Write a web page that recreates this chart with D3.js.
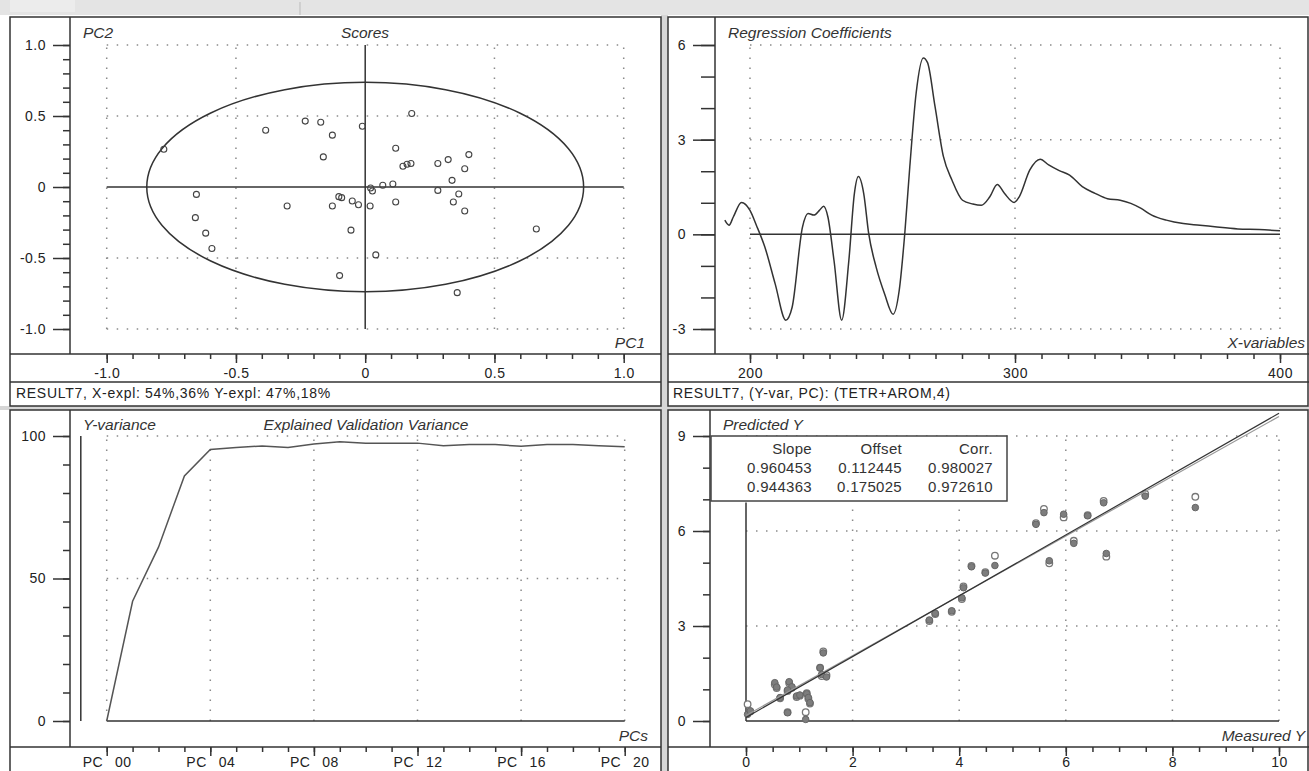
<!DOCTYPE html>
<html>
<head>
<meta charset="utf-8">
<script src="https://cdn.jsdelivr.net/npm/d3@7"></script>
<style>
  body { margin: 0; background: #fff; }
  svg { display: block; font-family: "Liberation Sans", Arial, sans-serif; }
  .tick text { font-size: 14px; fill: #222; letter-spacing: 0.5px; font-family: "Liberation Sans", Arial, sans-serif; }
  .tick line { stroke: #333; stroke-width: 1.5; }
  .ttl { font-size: 15.5px; font-style: italic; fill: #333; }
  .status { font-size: 14px; fill: #222; letter-spacing: 0.7px; }
  .stat { font-size: 15px; fill: #333; letter-spacing: 0.3px; }
</style>
</head>
<body>
<script>
// ---- Scores (PC1 vs PC2) ----
const scorePC1 = [-0.779, -0.385, -0.232, -0.172, -0.127, -0.011, -0.162, 0.180, 0.118, 0.146,
  0.162, 0.177, 0.281, 0.321, 0.401, 0.385, 0.336, 0.281, 0.362, 0.341, 0.385, 0.662, 0.107,
  0.068, 0.021, 0.028, 0.118, 0.019, -0.026, -0.050, -0.091, -0.102, -0.127, -0.302, -0.653,
  -0.657, -0.617, -0.593, -0.055, 0.041, -0.099, 0.356];
const scorePC2 = [0.266, 0.400, 0.464, 0.456, 0.365, 0.428, 0.212, 0.518, 0.273, 0.146,
  0.160, 0.165, 0.165, 0.193, 0.228, 0.129, 0.047, -0.024, -0.049, -0.106, -0.169, -0.296, 0.021,
  0.012, -0.007, -0.028, -0.106, -0.134, -0.125, -0.099, -0.075, -0.068, -0.134, -0.134, -0.052,
  -0.216, -0.325, -0.433, -0.304, -0.478, -0.624, -0.744];
const ellipseRadii = [0.845, 0.737];
const scoreTicks = [-1, -0.5, 0, 0.5, 1];

// ---- Regression coefficients ----
const coefX = [190.5, 192.1, 193.7, 196.8, 200, 202.4, 205.6, 209.5, 213.5, 215.9, 219.8, 221.9,
  224.1, 226.2, 227.8, 229.4, 231.7, 234.6, 237.3, 239.4, 240.9, 242.9, 244.8, 247.6, 250.8,
  254.0, 256.3, 258.4, 260.3, 262.7, 265.4, 267, 269.8, 273, 276.2, 280.2, 284.1, 287.3, 290.5,
  293.3, 296, 299.7, 301.6, 305.6, 309.5, 312.7, 316.7, 320.6, 325.4, 330.2, 334.9, 339.7,
  343.7, 347.6, 351.6, 357.1, 363.5, 369.8, 376.2, 384.1, 392.1, 400];
const coefY = [0.45, 0.29, 0.55, 1.01, 0.76, 0.29, -0.40, -1.57, -2.72, -2.31, 0.23, 0.66,
  0.61, 0.76, 0.89, 0.55, -0.83, -2.72, -0.83, 1.30, 1.83, 1.30, 0.02, -1.04, -1.89,
  -2.53, -1.78, 0.02, 2.14, 4.48, 5.59, 5.44, 4.06, 2.46, 1.72, 1.08, 0.96, 0.92, 1.19,
  1.58, 1.30, 1.01, 1.19, 2.04, 2.38, 2.20, 2.02, 1.88, 1.51, 1.30, 1.13, 1.08,
  0.98, 0.82, 0.61, 0.45, 0.34, 0.29, 0.23, 0.17, 0.15, 0.11];

// ---- Explained validation variance ----
const pcIndex = [0, 1, 2, 3, 4, 5, 6, 7, 8, 9, 10, 11, 12, 13, 14, 15, 16, 17, 18, 19, 20];
const explVar = [0, 42, 61, 86, 95.3, 96, 96.5, 96, 97.2, 98, 97.5, 97.5, 97.5, 96.6, 97, 97,
  96.4, 97, 97, 96.6, 96.2];
const pcTicks = [0, 4, 8, 12, 16, 20];
const pcTickLabels = ["PC\u2002\u00a000", "PC\u2002\u00a004", "PC\u2002\u00a008",
  "PC\u2002\u00a012", "PC\u2002\u00a016", "PC\u2002\u00a020"];

// ---- Predicted vs measured ----
const measured = [8.43, 7.49, 6.71, 6.76, 6.41, 6.15, 5.96, 5.59, 5.69, 5.44, 4.67, 4.49, 4.23,
  4.08, 4.05, 3.86, 3.55, 3.44, 1.45, 1.39, 1.42, 1.51, 0.54, 0.575, 0.81, 0.86, 0.64, 0.78,
  0.95, 1.01, 1.14, 1.17, 1.20, 0.78, 1.12, 0.03, 0.08];
const predCal = [6.74, 7.10, 6.89, 5.29, 6.48, 5.61, 6.53, 6.58, 5.06, 6.21, 4.91, 4.67, 4.87,
  4.21, 3.89, 3.48, 3.40, 3.19, 2.15, 1.68, 1.47, 1.39, 1.21, 1.07, 1.24, 1.08, 0.74, 0.98,
  0.79, 0.82, 0.86, 0.74, 0.58, 0.26, 0.05, 0.21, 0.32];
const predVal = [7.08, 7.17, 6.95, 5.19, 6.50, 5.69, 6.43, 6.70, 4.98, 6.25, 5.22, 4.70, 4.90,
  4.25, 3.85, 3.45, 3.38, 3.16, 2.20, 1.68, 1.42, 1.45, 1.15, 1.04, 1.20, 1.05, 0.72, 0.95,
  0.76, 0.80, 0.88, 0.70, 0.55, 0.28, 0.28, 0.53, 0.30];
const fitSlope = [0.960453, 0.944363];
const fitOffset = [0.112445, 0.175025];
const statHeader = ["Slope", "Offset", "Corr."];
const statCal = ["0.960453", "0.112445", "0.980027"];
const statVal = ["0.944363", "0.175025", "0.972610"];

const W = 1309, H = 771;
const svg = d3.select("body").append("svg").attr("width", W).attr("height", H);

// window chrome / panel frames
svg.append("rect").attr("width", W).attr("height", H).attr("fill", "#fff");
svg.append("rect").attr("width", W).attr("height", 15).attr("fill", "#e4e4e4");
svg.append("rect").attr("x", 10).attr("width", 65).attr("height", 12).attr("fill", "#ececec");
svg.append("line").attr("x1", 300).attr("x2", 300).attr("y1", 2).attr("y2", 15).attr("stroke", "#bbb");
svg.append("rect").attr("x", 661).attr("y", 15).attr("width", 7).attr("height", H).attr("fill", "#d6d6d6");
svg.append("rect").attr("x", 0).attr("y", 406).attr("width", W).attr("height", 4).attr("fill", "#d6d6d6");

const frames = [[10, 17, 651, 389], [668, 17, 640, 389], [10, 410, 651, 380], [668, 410, 640, 380]];
frames.forEach(f => svg.append("rect").attr("x", f[0]).attr("y", f[1]).attr("width", f[2]).attr("height", f[3])
  .attr("fill", "none").attr("stroke", "#333").attr("stroke-width", 1.5));
[[10, 661, 354], [10, 661, 382], [668, 1309, 354], [668, 1309, 382], [10, 661, 747], [668, 1309, 747]]
  .forEach(l => svg.append("line").attr("x1", l[0]).attr("x2", l[1]).attr("y1", l[2]).attr("y2", l[2])
    .attr("stroke", "#333").attr("stroke-width", 1.5));

function yAxis(x, y0, y1, scale, majors, minors, fmt, majLen, minLen) {
  svg.append("line").attr("x1", x).attr("x2", x).attr("y1", y0).attr("y2", y1)
    .attr("stroke", "#333").attr("stroke-width", 1.5);
  svg.append("g").attr("transform", `translate(${x},0)`)
    .call(d3.axisLeft(scale).tickValues(minors).tickSize(minLen).tickFormat(""))
    .call(g => g.select(".domain").remove());
  svg.append("g").attr("transform", `translate(${x},0)`)
    .call(d3.axisLeft(scale).tickValues(majors).tickSize(majLen).tickPadding(7).tickFormat(fmt))
    .call(g => g.select(".domain").remove());
}
function xAxis(y, scale, majors, minors, fmt, pad) {
  svg.append("g").attr("transform", `translate(0,${y})`)
    .call(d3.axisBottom(scale).tickValues(minors).tickSize(5).tickFormat(""))
    .call(g => g.select(".domain").remove());
  svg.append("g").attr("transform", `translate(0,${y})`)
    .call(d3.axisBottom(scale).tickValues(majors).tickSize(9).tickPadding(pad).tickFormat(fmt))
    .call(g => g.select(".domain").remove());
}
function grid(xs, ys, x, y, xr, yr) {
  const g = svg.append("g").attr("stroke", "#8a8a8a").attr("stroke-width", 1.5).attr("stroke-dasharray", "1.5 8.5");
  xs.forEach(v => g.append("line").attr("x1", x(v)).attr("x2", x(v)).attr("y1", y(yr[0])).attr("y2", y(yr[1])));
  ys.forEach(v => g.append("line").attr("x1", x(xr[0])).attr("x2", x(xr[1])).attr("y1", y(v)).attr("y2", y(v)));
}
function label(txt, x, y, anchor, cls) {
  return svg.append("text").attr("class", cls || "ttl").attr("x", x).attr("y", y)
    .attr("text-anchor", anchor || "start").text(txt);
}
const solid = (x1, y1, x2, y2, col) => svg.append("line").attr("x1", x1).attr("y1", y1).attr("x2", x2).attr("y2", y2)
  .attr("stroke", col || "#333").attr("stroke-width", 1.5);

// ===== Scores =====
const xS = d3.scaleLinear().domain([-1, 1]).range([106.7, 623.7]);
const yS = d3.scaleLinear().domain([-1, 1]).range([329, 45]);
grid([-1, -0.5, 0.5, 1], [-1, -0.5, 0.5, 1], xS, yS, [-1, 1], [-1, 1]);
const f1 = d => d === 0 ? "0" : d.toFixed(1);
yAxis(70, 17, 354, yS, scoreTicks, d3.range(-10, 11).map(d => d / 10), f1, 17, 7);
xAxis(354, xS, scoreTicks, d3.range(-10, 11).map(d => d / 10), f1, 5);
solid(xS(-1), yS(0), xS(1), yS(0));
solid(xS(0), yS(-1), xS(0), yS(1));
svg.append("ellipse").attr("cx", xS(0)).attr("cy", yS(0))
  .attr("rx", xS(ellipseRadii[0]) - xS(0)).attr("ry", yS(0) - yS(ellipseRadii[1]))
  .attr("fill", "none").attr("stroke", "#333").attr("stroke-width", 1.5);
svg.append("g").selectAll("circle").data(scorePC1).join("circle")
  .attr("cx", d => xS(d)).attr("cy", (d, i) => yS(scorePC2[i])).attr("r", 3)
  .attr("fill", "none").attr("stroke", "#444").attr("stroke-width", 1.1);
label("PC2", 83, 38);
label("Scores", 365, 38, "middle");
label("PC1", 645, 348, "end");
label("RESULT7, X-expl: 54%,36% Y-expl: 47%,18%", 16, 398, "start", "status");

// ===== Regression coefficients =====
const xR = d3.scaleLinear().domain([200, 400]).range([750, 1280]);
const yR = d3.scaleLinear().domain([-3, 6]).range([329, 45]);
grid([200, 300, 400], [-3, 3, 6], xR, yR, [200, 400], [-3, 6]);
yAxis(715, 17, 354, yR, [-3, 0, 3, 6], d3.range(-3, 7), d => String(d), 22, 14);
xAxis(354, xR, [200, 300, 400], d3.range(200, 401, 10), d => String(d), 5);
solid(xR(200), yR(0), xR(400), yR(0));
svg.append("path").datum(coefX)
  .attr("d", d3.line().x(d => xR(d)).y((d, i) => yR(coefY[i])).curve(d3.curveMonotoneX))
  .attr("fill", "none").attr("stroke", "#333").attr("stroke-width", 1.5);
label("Regression Coefficients", 728, 38);
label("X-variables", 1305, 348, "end");
label("RESULT7, (Y-var, PC): (TETR+AROM,4)", 673, 398, "start", "status");

// ===== Explained validation variance =====
const xV = d3.scaleLinear().domain([0, 20]).range([106.7, 624.7]);
const yV = d3.scaleLinear().domain([0, 100]).range([721, 436]);
grid(pcTicks, [50, 100], xV, yV, [0, 20], [0, 100]);
yAxis(70, 410, 747, yV, [0, 50, 100], d3.range(0, 101, 10), d => String(d), 17, 7);
xAxis(747, xV, pcTicks, pcIndex, (d, i) => pcTickLabels[i], 1.5);
solid(xV(0), yV(0), xV(20), yV(0));
solid(xV(-1), yV(0), xV(-1), yV(100));
svg.append("path").datum(pcIndex)
  .attr("d", d3.line().x(d => xV(d)).y((d, i) => yV(explVar[i])))
  .attr("fill", "none").attr("stroke", "#555").attr("stroke-width", 1.5);
label("Y-variance", 83, 430);
label("Explained Validation Variance", 366, 430, "middle");
label("PCs", 648, 741, "end");

// ===== Predicted vs measured =====
const xP = d3.scaleLinear().domain([0, 10]).range([746, 1279]);
const yP = d3.scaleLinear().domain([0, 9]).range([721, 436]);
grid([2, 4, 6, 8, 10], [3, 6, 9], xP, yP, [0, 10], [0, 9]);
yAxis(710, 410, 747, yP, [0, 3, 6, 9], d3.range(0, 10), d => String(d), 17, 7);
xAxis(747, xP, [0, 2, 4, 6, 8, 10], d3.range(0, 10.01, 0.5), d => String(d), 1.5);
solid(xP(0), yP(0), xP(10), yP(0));
solid(xP(0), yP(0), xP(0), yP(6.9));
svg.append("g").selectAll("circle").data(measured).join("circle")
  .attr("cx", d => xP(d)).attr("cy", (d, i) => yP(predVal[i])).attr("r", 3.3)
  .attr("fill", "#fff").attr("stroke", "#777").attr("stroke-width", 1.3);
svg.append("g").selectAll("circle").data(measured).join("circle")
  .attr("cx", d => xP(d)).attr("cy", (d, i) => yP(predCal[i])).attr("r", 3.3)
  .attr("fill", "#7d7d7d").attr("stroke", "#666").attr("stroke-width", 1);
[["#999", 1], ["#333", 0]].forEach(([col, k]) =>
  solid(xP(0), yP(fitOffset[k]), xP(10), yP(fitSlope[k] * 10 + fitOffset[k]), col).attr("stroke-width", 1.2));

// stats box
const bx = 711, by = yP(9), bw = 296, bh = 65;
svg.append("rect").attr("x", bx).attr("y", by).attr("width", bw).attr("height", bh)
  .attr("fill", "#fff").attr("stroke", "#444").attr("stroke-width", 1.5);
const colX = [812, 902, 993];
statHeader.forEach((t, i) => label(t, colX[i], 454, "end", "stat"));
statCal.forEach((t, i) => label(t, colX[i], 473, "end", "stat"));
statVal.forEach((t, i) => label(t, colX[i], 492, "end", "stat").attr("fill", "#999"));
label("Predicted Y", 723, 430);
label("Measured Y", 1305, 741, "end");
</script>
</body>
</html>
